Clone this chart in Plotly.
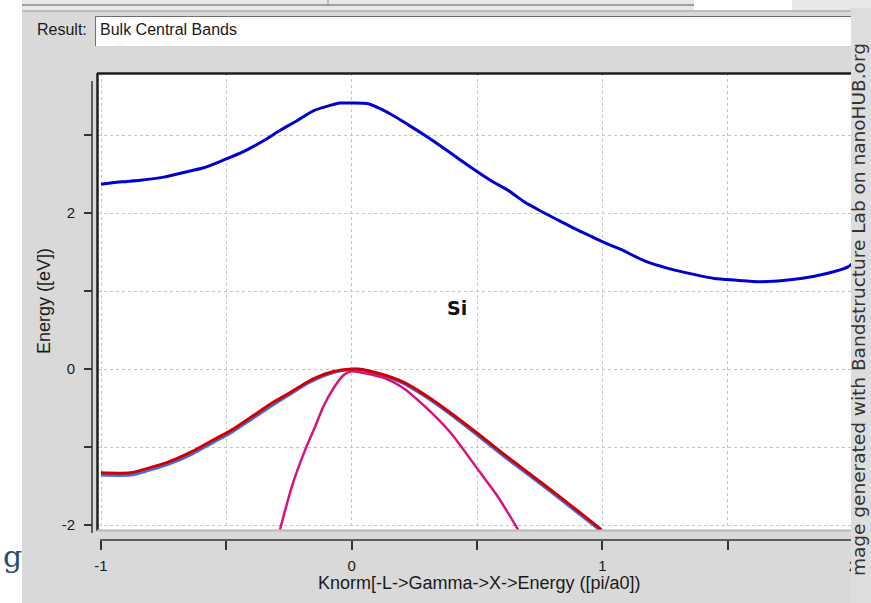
import plotly.graph_objects as go

# ---------------- data ----------------
k_cb = [-1.0, -0.916, -0.843, -0.75, -0.67, -0.59, -0.51, -0.43, -0.35, -0.285,
        -0.22, -0.153, -0.086, -0.047, 0.0, 0.066, 0.16, 0.226, 0.29, 0.359,
        0.425, 0.491, 0.558, 0.624, 0.69, 0.757, 0.823, 0.89, 0.956, 1.023,
        1.076, 1.169, 1.262, 1.355, 1.447, 1.527, 1.633, 1.74, 1.846, 1.926,
        1.98, 2.005]
e_cb = [2.37, 2.40, 2.42, 2.46, 2.52, 2.58, 2.68, 2.79, 2.93, 3.06,
        3.18, 3.31, 3.38, 3.41, 3.41, 3.40, 3.26, 3.13, 3.00, 2.85,
        2.70, 2.55, 2.41, 2.29, 2.14, 2.02, 1.91, 1.80, 1.70, 1.60,
        1.53, 1.385, 1.29, 1.22, 1.16, 1.14, 1.12, 1.14, 1.19, 1.25,
        1.31, 1.375]

k_vb = [-1.0, -0.883, -0.81, -0.73, -0.637, -0.558, -0.478, -0.398, -0.319,
        -0.239, -0.173, -0.106, -0.04, 0.0, 0.027, 0.106, 0.2, 0.292, 0.398,
        0.504, 0.61, 0.717, 0.823, 0.93, 0.996]
e_hh = [-1.33, -1.33, -1.27, -1.19, -1.06, -0.92, -0.78, -0.61, -0.44,
        -0.29, -0.16, -0.064, -0.013, 0.0, 0.0, -0.055, -0.16, -0.33, -0.57,
        -0.83, -1.10, -1.36, -1.62, -1.89, -2.06]
e_lh = [-1.36, -1.36, -1.30, -1.22, -1.09, -0.95, -0.81, -0.64, -0.47,
        -0.31, -0.18, -0.08, -0.02, -0.005, -0.005, -0.065, -0.175, -0.35, -0.59,
        -0.855, -1.125, -1.385, -1.645, -1.915, -2.08]

k_so = [-0.286, -0.239, -0.186, -0.146, -0.113, -0.073, -0.033, 0.0, 0.053,
        0.133, 0.2, 0.292, 0.398, 0.504, 0.584, 0.664]
e_so = [-2.06, -1.51, -1.04, -0.74, -0.48, -0.25, -0.08, -0.03, -0.055,
        -0.12, -0.23, -0.48, -0.83, -1.29, -1.64, -2.06]

x_tickvals = [-1, -0.5, 0, 0.5, 1, 1.5, 2]
x_ticktext = ["-1", "", "0", "", "1", "", "2"]
y_tickvals = [-2, -1, 0, 1, 2, 3]
y_ticktext = ["-2", "", "0", "", "2", ""]

# ---------------- layout helpers ----------------
W, H = 871, 603
ML, MR, MT, MB = 92, 16, 73, 63
PW = W - ML - MR
PH = H - MT - MB


def px(xp):
    return (xp - ML) / PW


def py(yp):
    return (H - MB - yp) / PH


FONT = "Liberation Sans"
BG = "#d9d9d9"

fig = go.Figure()
fig.add_trace(go.Scatter(x=k_cb, y=e_cb, mode="lines",
                         line=dict(color="#0000cc", width=3, shape="spline", smoothing=0.7),
                         showlegend=False))
fig.add_trace(go.Scatter(x=k_vb, y=e_lh, mode="lines",
                         line=dict(color="#3f6fe0", width=3, shape="spline", smoothing=0.7),
                         showlegend=False))
fig.add_trace(go.Scatter(x=k_so, y=e_so, mode="lines",
                         line=dict(color="#d6137c", width=2.5, shape="spline", smoothing=0.6),
                         showlegend=False))
fig.add_trace(go.Scatter(x=k_vb, y=e_hh, mode="lines",
                         line=dict(color="#d00000", width=3, shape="spline", smoothing=0.7),
                         showlegend=False))

shapes = []
# white plot area
shapes.append(dict(type="rect", xref="paper", yref="paper", layer="below",
                   x0=px(98), x1=px(871), y0=py(530), y1=py(73),
                   fillcolor="white", line=dict(width=0)))
# left white strip
shapes.append(dict(type="rect", xref="paper", yref="paper", layer="above",
                   x0=px(0), x1=px(22), y0=py(603), y1=py(0),
                   fillcolor="white", line=dict(width=0)))
# top band
shapes.append(dict(type="rect", xref="paper", yref="paper", layer="above",
                   x0=px(22), x1=px(871), y0=py(11), y1=py(0),
                   fillcolor="#e8e8e8", line=dict(width=0)))
shapes.append(dict(type="rect", xref="paper", yref="paper", layer="above",
                   x0=px(694), x1=px(792), y0=py(10), y1=py(0),
                   fillcolor="#ffffff", line=dict(width=0)))
shapes.append(dict(type="line", xref="paper", yref="paper", layer="above",
                   x0=px(22), x1=px(694), y0=py(5), y1=py(5),
                   line=dict(color="#8a8a8a", width=1.5)))
shapes.append(dict(type="line", xref="paper", yref="paper", layer="above",
                   x0=px(328), x1=px(328), y0=py(0), y1=py(5),
                   line=dict(color="#8a8a8a", width=1)))
shapes.append(dict(type="line", xref="paper", yref="paper", layer="above",
                   x0=px(22), x1=px(871), y0=py(11), y1=py(11),
                   line=dict(color="#9a9a9a", width=1)))
# Result text box
shapes.append(dict(type="rect", xref="paper", yref="paper", layer="above",
                   x0=px(95), x1=px(871), y0=py(46), y1=py(16),
                   fillcolor="white", line=dict(width=0)))
shapes.append(dict(type="line", xref="paper", yref="paper", layer="above",
                   x0=px(95), x1=px(871), y0=py(16.5), y1=py(16.5),
                   line=dict(color="#6e6e6e", width=1)))
shapes.append(dict(type="line", xref="paper", yref="paper", layer="above",
                   x0=px(95.5), x1=px(95.5), y0=py(16), y1=py(46),
                   line=dict(color="#6e6e6e", width=1)))
# plot frame (inset look)
shapes.append(dict(type="line", xref="paper", yref="paper", layer="above",
                   x0=px(97), x1=px(871), y0=py(73.5), y1=py(73.5),
                   line=dict(color="#1e1e1e", width=2.5)))
shapes.append(dict(type="line", xref="paper", yref="paper", layer="above",
                   x0=px(97.5), x1=px(97.5), y0=py(73), y1=py(531),
                   line=dict(color="#1e1e1e", width=2.5)))
shapes.append(dict(type="line", xref="paper", yref="paper", layer="above",
                   x0=px(97), x1=px(871), y0=py(530.5), y1=py(530.5),
                   line=dict(color="#b8b8b8", width=2)))
# axis lines (offset from the plot area)
shapes.append(dict(type="line", xref="paper", yref="paper", layer="above",
                   x0=px(92), x1=px(92), y0=py(81), y1=py(533),
                   line=dict(color="#333333", width=1.5)))
shapes.append(dict(type="line", xref="paper", yref="paper", layer="above",
                   x0=px(100), x1=px(871), y0=py(540), y1=py(540),
                   line=dict(color="#333333", width=1.5)))
# right watermark strip
shapes.append(dict(type="rect", xref="paper", yref="paper", layer="above",
                   x0=px(851), x1=px(871), y0=py(603), y1=py(8),
                   fillcolor="#dddddd", line=dict(width=0)))

annotations = [
    dict(text="Result:", xref="paper", yref="paper", x=px(89), y=py(30),
         xanchor="right", yanchor="middle", showarrow=False,
         font=dict(family=FONT, size=16, color="#1a1a1a")),
    dict(text="Bulk Central Bands", xref="paper", yref="paper", x=px(98), y=py(30),
         xanchor="left", yanchor="middle", showarrow=False,
         font=dict(family=FONT, size=16, color="#1a1a1a")),
    dict(text="Knorm[-L->Gamma->X->Energy ([pi/a0])", xref="paper", yref="paper",
         x=px(479), y=py(583), xanchor="center", yanchor="middle", showarrow=False,
         font=dict(family=FONT, size=18, color="#1a1a1a")),
    dict(text="Energy ([eV])", xref="paper", yref="paper", textangle=-90,
         x=px(44), y=py(301), xanchor="center", yanchor="middle", showarrow=False,
         font=dict(family=FONT, size=18, color="#1a1a1a")),
    dict(text="<b>Si</b>", xref="x", yref="y", x=0.42, y=0.78,
         xanchor="center", yanchor="middle", showarrow=False,
         font=dict(family="DejaVu Sans", size=19, color="#111111")),
    dict(text="mage generated with Bandstructure Lab on nanoHUB.org",
         xref="paper", yref="paper", textangle=-90, borderpad=0,
         x=px(858.5), y=py(42), xanchor="center", yanchor="top", showarrow=False,
         font=dict(family="DejaVu Sans", size=18.5, color="#333333")),
    dict(text="g", xref="paper", yref="paper", x=px(1), y=py(556),
         xanchor="left", yanchor="middle", showarrow=False,
         font=dict(family="DejaVu Serif", size=30, color="#2e4c66")),
]

tickfont = dict(family=FONT, size=15, color="#1a1a1a")

fig.update_layout(
    width=W, height=H,
    margin=dict(l=ML, r=MR, t=MT, b=MB, pad=0),
    paper_bgcolor=BG, plot_bgcolor="rgba(0,0,0,0)",
    xaxis=dict(domain=[px(98), 1], range=[-1.012, 2.008],
               anchor="free", position=0,
               tickvals=x_tickvals, ticktext=x_ticktext,
               ticks="outside", ticklen=9, tickwidth=1.5, tickcolor="#333333",
               ticklabelstandoff=3,
               showline=False, zeroline=False,
               showgrid=True, gridcolor="#c4c4c4", griddash="dot", gridwidth=1,
               tickfont=tickfont),
    yaxis=dict(domain=[py(530), 1], range=[-2.064, 3.795],
               anchor="free", position=0,
               tickvals=y_tickvals, ticktext=y_ticktext,
               ticks="outside", ticklen=8, tickwidth=1.5, tickcolor="#333333",
               ticklabelstandoff=6,
               showline=False, zeroline=False,
               showgrid=True, gridcolor="#c4c4c4", griddash="dot", gridwidth=1,
               tickfont=tickfont),
    shapes=shapes,
    annotations=annotations,
    showlegend=False,
)

fig.write_html("out.html")
